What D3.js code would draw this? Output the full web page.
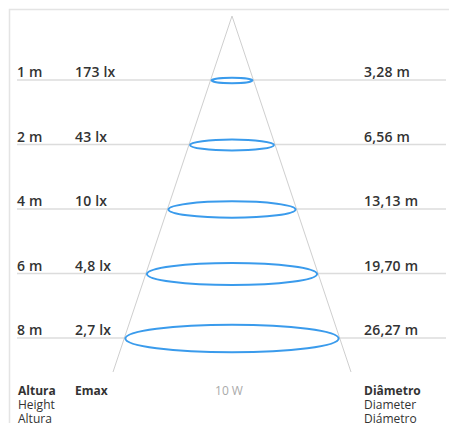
<!DOCTYPE html>
<html>
<head>
<meta charset="utf-8">
<script src="https://cdn.jsdelivr.net/npm/d3@7"></script>
<style>
  body { margin: 0; background: #fff; }
  text { font-family: "Open Sans", sans-serif; }
</style>
</head>
<body>
<svg id="chart"></svg>
<script>
// values
let heights = ["1 m", "2 m", "4 m", "6 m", "8 m"];
let emax = ["173 lx", "43 lx", "10 lx", "4,8 lx", "2,7 lx"];
let diameters = ["3,28 m", "6,56 m", "13,13 m", "19,70 m", "26,27 m"];
let power = "10 W";
let colHeight = ["Altura", "Height", "Altura"];
let colEmax = ["Emax"];
let colDiam = ["Diâmetro", "Diameter", "Diámetro"];

function drawChart() {
    let width = 449, height = 423;
    let svg = d3.select("#chart").attr("width", width).attr("height", height);

    let cx = 232, apexY = 16, coneBottom = 372;
    // rows are spaced evenly, not by metres
    let y = d3.scalePoint().domain(heights).range([80, 338]);
    // half width of the light cone at a given y
    let cone = d3.scaleLinear().domain([apexY, coneBottom]).range([0, 119]);

    // frame
    svg.append("path")
        .attr("d", "M9.5," + height + "V9.5H" + width)
        .attr("fill", "none")
        .attr("stroke", "#e4e4e4")
        .attr("stroke-width", 1.5);

    // row lines
    svg.selectAll("line.row").data(heights)
        .enter().append("line")
        .attr("class", "row")
        .attr("x1", 17).attr("x2", 446)
        .attr("y1", d => y(d)).attr("y2", d => y(d))
        .attr("stroke", "#dcdcdc")
        .attr("stroke-width", 1.5);

    // cone
    svg.append("path")
        .attr("d", "M" + (cx - cone(coneBottom)) + "," + coneBottom +
            "L" + cx + "," + apexY +
            "L" + (cx + cone(coneBottom)) + "," + coneBottom)
        .attr("fill", "none")
        .attr("stroke", "#cfcfcf")
        .attr("stroke-width", 1);

    // light spots
    svg.selectAll("ellipse").data(heights)
        .enter().append("ellipse")
        .attr("cx", cx)
        .attr("cy", d => y(d) + 0.5)
        .attr("rx", d => cone(y(d)) - 1)
        .attr("ry", d => (cone(y(d)) - 1) * 0.13)
        .attr("fill", "#fff")
        .attr("stroke", "#3a9bec")
        .attr("stroke-width", 2);

    let cols = [
        {x: 17, vals: heights},
        {x: 75, vals: emax},
        {x: 364, vals: diameters}
    ];
    cols.forEach(function (c) {
        svg.selectAll(null).data(c.vals)
            .enter().append("text")
            .attr("x", c.x)
            .attr("y", (d, i) => y(heights[i]) - 3)
            .attr("font-size", 14)
            .attr("font-weight", 600)
            .attr("letter-spacing", 0.2)
            .attr("fill", "#333")
            .text(d => d);
    });

    // column titles
    let titles = [
        {x: 18, lines: colHeight},
        {x: 75, lines: colEmax},
        {x: 364, lines: colDiam}
    ];
    titles.forEach(function (t) {
        svg.selectAll(null).data(t.lines)
            .enter().append("text")
            .attr("x", t.x)
            .attr("y", (d, i) => 395 + i * 14)
            .attr("font-size", 12)
            .attr("font-weight", (d, i) => i === 0 ? 700 : 400)
            .attr("fill", "#333")
            .text(d => d);
    });

    svg.append("text")
        .attr("x", 229)
        .attr("y", 395)
        .attr("text-anchor", "middle")
        .attr("font-size", 12)
        .attr("fill", "#aaa")
        .text(power);
}

drawChart();
</script>
</body>
</html>
